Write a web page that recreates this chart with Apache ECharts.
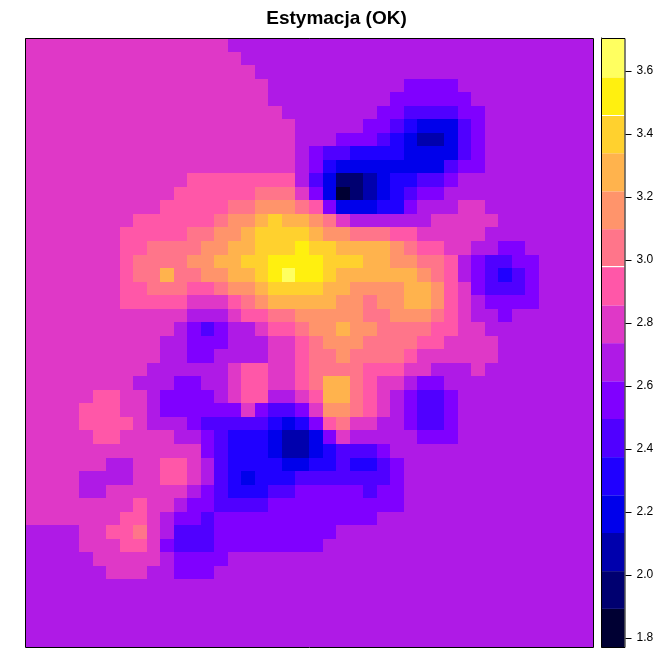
<!DOCTYPE html>
<html>
<head>
<meta charset="utf-8">
<style>html,body{margin:0;padding:0;background:#fff}#c{width:672px;height:671px}</style>
<script src="https://cdn.jsdelivr.net/npm/echarts@6/dist/echarts.min.js"></script>
</head>
<body>
<div id="c"></div>
<script>
const titleText = "Estymacja (OK)";
const tickValues = [1.8, 2.0, 2.2, 2.4, 2.6, 2.8, 3.0, 3.2, 3.4, 3.6];
const bandBreaks = [1.77, 1.891, 2.011, 2.132, 2.252, 2.373, 2.494, 2.614, 2.735, 2.855, 2.976, 3.097, 3.217, 3.338, 3.458, 3.579, 3.704];
const bandValues = [1.83, 1.95, 2.07, 2.19, 2.31, 2.43, 2.55, 2.67, 2.79, 2.91, 3.03, 3.15, 3.27, 3.39, 3.51, 3.63];
const palette = ["#000033","#000070","#0000AD","#0000EB","#2000FF","#5000FF","#8000FF","#AF1AE6","#DF38C7","#FF57A8","#FF758A","#FF946B","#FFB34D","#FFD12E","#FFF00F","#FFFF60"];
const seamValues = [2.976, 3.458];
// one string per raster row (top to bottom), one hex digit per cell = index into bandValues
const rasterRows = [
"888888888888888 777777777777777777777777777",
"8888888888888888 77777777777777777777777777",
"88888888888888888 7777777777777777777777777",
"888888888888888888 7777777777 6666 7777777777",
"888888888888888888 777777777 666666 777777777",
"8888888888888888888 7777777 66 5555 66 77777777",
"88888888888888888888 77777 66 5 4 33 3 5 6 77777777",
"88888888888888888888 777 666 5 4 3 22 3 5 6 77777777",
"88888888888888888888 7 6 55 4444 333 3 5 6 77777777",
"88888888888888888888 7 6 4 333333 33 5 66 77777777",
"888888888888 99999999 7 5 3 11 2 3 44 55 6 7777777777",
"88888888888 999999 aaa 8 6 3 0 1 2 3 4 5 66 77777777777",
"8888888888 99999 aa bbb a 9 6 333 44 6 777 88 77777777",
"88888888 999999 a bb c d cc b a 8 777777 88888 7777777",
"8888888 99999 aa bb c dddd c bb aaa 99 88888 77777777",
"8888888 99 aaaa bb cc ddd e dd cccc b a 99 88 77 66 77777",
"8888888 9 aaaa bb cc dd eeee ddd cc bb aa 9 7 6 55 66 7777",
"8888888 9 aa c aa bb cc d e f ee d cccccc b a 9 7 6 5 4 5 6 7777",
"8888888 99 aaa 99 a bb c dddd cc bbbb cc b 9 8 6 555 6 7777",
"8888888 99999 888 9 a b ccccc bb a bb cc b 9 8 7 6666 7777",
"888888888888 777 8 99 aa bbb bb aa bbb a 9 8 77 6 777777",
"88888888888 7 6 5 6 77 8 99 a bb c bb aaaa 99 88 77777777",
"8888888888 77 666 777 88 9 a bbb aaaa 99 8888 7777777",
"8888888888 77 66 7777 88 9 aa b aaaa 9 888888 7777777",
"888888888 777777 8 99 88 9 aaaa 999 88 777 8 77777777",
"88888888 777 66 77 8 99 88 9 a cc a 9 88 7 66 77777777777",
"88888 99 88 7 6666 7 8 99 77 8 9 cc a 9 8 7 6 55 6 7777777777",
"8888 999 88 7 666666 8 6 55 6 8 bb a 9 8 7 6 55 6 7777777777",
"8888 9999 8 777 6 55555 4 3 4 6 9 a 88 77 6 55 6 7777777777",
"88888 99 8888 77 6 5 444 3 22 3 6 8 77777 666 7777777777",
"8888888888888 6 5 444 3 22 3 4 555 6 777777777777777",
"888888 77 88 99 8 7 5 4444 33 44 5 44 5 6 77777777777777",
"8888 7777 88 99 8 7 5 4 3 444 5555555 6 77777777777777",
"8888 77 888888 7 6 5 444 55 66666 5 66 77777777777777",
"88888888 9 88 7 66 5555 6666666666 77777777777777",
"8888888 99 8 7 66 5 666666666666 7777777777777777",
"7777 88 9 9 a 8 7 555 666666666 7777777777777777777",
"7777 888 99 8 6 555 66666666 77777777777777777777",
"77777 88888 7 6666 777777777777777777777777777",
"777777 888 77 666 7777777777777777777777777777",
"777777777777777777777777777777777777777777",
"777777777777777777777777777777777777777777",
"777777777777777777777777777777777777777777",
"777777777777777777777777777777777777777777",
"777777777777777777777777777777777777777777"
];

const cells = [];
rasterRows.forEach((s, r) => {
  const row = s.replace(/ /g, "");
  if (row.length !== 42) throw new Error("row " + r + " has " + row.length);
  for (let c = 0; c < 42; c++) cells.push([c, r, bandValues[parseInt(row[c], 16)]]);
});
const bands = palette.map((_, i) => [bandBreaks[i], bandBreaks[i + 1], i]);
const colorOf = v => palette[bandValues.indexOf(v)];

const P = {l: 25, t: 38, w: 568, h: 609};
const K = {l: 601, t: 38, w: 23.5, h: 609};
const tickLen = 6;

const chart = echarts.init(document.getElementById("c"), null, {renderer: "canvas"});
chart.setOption({
  animation: false,
  backgroundColor: "#fff",
  title: {text: titleText, left: 331.5, top: 4, textAlign: "center",
    textStyle: {fontFamily: "Liberation Sans", fontWeight: "bold", fontSize: 19, color: "#000"}},
  grid: [
    {left: P.l, top: P.t, width: P.w, height: P.h},
    {left: K.l, top: K.t, width: K.w, height: K.h}
  ],
  xAxis: [
    {type: "value", min: 0, max: 42, gridIndex: 0, show: false},
    {type: "value", min: 0, max: 1, gridIndex: 1, show: false}
  ],
  yAxis: [
    {type: "value", min: 0, max: 45, gridIndex: 0, inverse: true, show: false},
    {type: "value", gridIndex: 1, position: "right", min: bandBreaks[0], max: bandBreaks[16],
      splitLine: {show: false},
      axisLine: {show: true, lineStyle: {color: "#000", width: 1}},
      axisTick: {show: false},
      axisLabel: {show: true, customValues: tickValues, margin: 12, padding: [3, 0, 0, 0],
        formatter: v => Number(v).toFixed(1), color: "#000",
        fontFamily: "Liberation Sans", fontSize: 12}}
  ],
  series: [
    {type: "custom", xAxisIndex: 0, yAxisIndex: 0, data: cells, encode: {x: 0, y: 1}, silent: true, clip: true,
      renderItem: (params, api) => {
        const c = api.value(0), r = api.value(1);
        const a = api.coord([c, r]);
        const b = api.coord([c + 1, r + 1]);
        const x0 = Math.round(a[0]), y0 = Math.round(a[1]);
        return {type: "rect", shape: {x: x0, y: y0, width: Math.round(b[0]) - x0, height: Math.round(b[1]) - y0},
          style: {fill: colorOf(api.value(2))}};
      }},
    {type: "custom", xAxisIndex: 1, yAxisIndex: 1, data: bands, encode: {y: [0, 1]}, silent: true,
      renderItem: (params, api) => {
        const a = api.coord([0, api.value(0)]);
        const b = api.coord([1, api.value(1)]);
        return {type: "rect", shape: {x: a[0], y: b[1], width: b[0] - a[0], height: a[1] - b[1]},
          style: {fill: palette[api.value(2)]}};
      },
      markLine: {silent: true, symbol: "none", label: {show: false}, animation: false,
        lineStyle: {color: "#fff", width: 1, type: "solid"},
        data: seamValues.map(v => ({yAxis: v}))}},
    {type: "custom", xAxisIndex: 1, yAxisIndex: 1, data: tickValues.map(v => [v]), encode: {y: 0}, silent: true, clip: false,
      renderItem: (params, api) => {
        const p = api.coord([1, api.value(0)]);
        const x = Math.round(p[0]) + 0.5, y = Math.round(p[1]) + 0.5;
        return {type: "line", shape: {x1: x, y1: y, x2: x + tickLen, y2: y},
          style: {stroke: "#000", lineWidth: 1}};
      }}
  ],
  graphic: [
    {type: "rect", z: 100, silent: true, shape: {x: P.l + 0.5, y: P.t + 0.5, width: P.w, height: P.h},
      style: {fill: null, stroke: "#000", lineWidth: 1}},
    {type: "rect", z: 100, silent: true, shape: {x: K.l + 0.5, y: K.t + 0.5, width: K.w, height: K.h},
      style: {fill: null, stroke: "#000", lineWidth: 1}}
  ]
});
</script>
</body>
</html>
